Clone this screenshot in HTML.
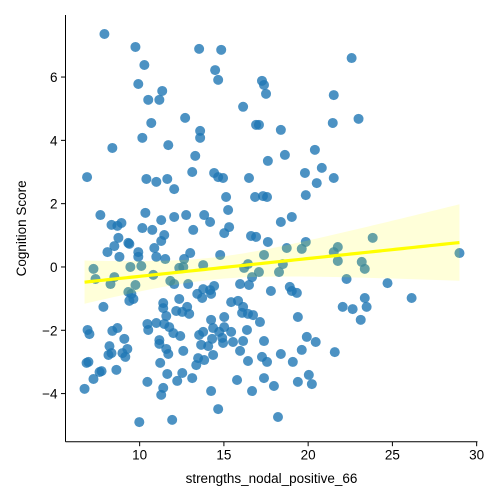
<!DOCTYPE html>
<html><head><meta charset="utf-8"><style>
html,body{margin:0;padding:0;background:#fff;}
svg{display:block;font-family:"Liberation Sans","DejaVu Sans",sans-serif;}
</style></head><body>
<svg id="chart" width="500" height="500" viewBox="0 0 500 500">
<rect width="500" height="500" fill="#fff"/>
<g id="points"></g>
<g id="reg"></g>
<g id="axes"></g>
</svg>
<script>
const xValues=[7.91,9.75,13.53,10.28,9.92,11.34,10.51,11.17,12.70,10.69,13.59,13.59,10.16,8.38,11.70,13.30,13.12,6.88,10.40,10.99,11.64,12.05,7.67,10.34,11.28,12.05,12.76,8.33,8.92,8.68,10.16,10.75,13.18,
11.46,11.28,8.74,8.50,9.33,9.39,8.09,10.87,9.92,9.92,8.80,10.99,11.52,12.64,13.00,7.26,9.45,10.10,12.35,12.59,13.77,7.38,8.50,8.27,10.81,11.82,12.05,12.88,9.75,9.33,9.51,9.39,9.63,7.85,13.42,13.77,13.71,12.35,11.40,11.40,12.17,12.53,12.82,12.94,11.58,6.91,7.02,8.38,8.68,10.46,10.51,10.99,11.46,11.76,12.0,12.41,13.53,13.77,11.17,11.17,9.09,8.21,9.27,11.58,11.70,12.59,8.15,8.33,8.98,9.15,13.65,13.47,13.83,13.36,6.85,6.96,7.62,7.74,8.62,11.22,11.64,12.53,12.23,13.12,7.26,6.73,10.46,11.40,11.28,9.98,11.93,
14.84,14.48,14.66,17.26,17.38,17.50,21.52,16.14,16.91,17.08,18.38,21.46,18.62,17.61,20.40,19.81,20.81,20.51,21.52,14.42,14.66,14.95,16.49,15.13,16.85,17.32,17.56,19.86,15.25,13.83,14.18,15.31,18.38,19.03,
15.02,16.61,16.91,17.61,19.86,18.73,19.62,14.78,17.38,16.43,16.20,17.08,18.50,18.27,16.67,15.96,16.49,17.79,18.91,19.03,19.33,14.42,14.18,14.24,15.43,15.84,16.14,16.08,16.43,16.73,17.14,15.02,19.39,14.24,14.36,15.02,14.72,15.43,14.90,14.30,14.95,15.54,16.14,16.37,17.38,19.92,20.45,14.07,15.96,19.62,18.38,14.36,16.43,17.26,17.56,19.09,21.58,20.04,20.22,19.39,15.78,17.38,17.97,16.67,14.24,14.66,18.21,
22.58,22.99,23.83,21.76,21.52,21.76,23.18,23.36,28.98,22.28,24.71,23.36,23.47,22.05,22.64,23.12,26.14];
const yValues=[7.36,6.95,6.89,6.38,5.78,5.56,5.28,5.28,4.71,4.55,4.30,4.08,4.08,3.76,3.85,3.51,3.00,2.84,2.78,2.69,2.78,2.46,1.64,1.71,1.48,1.58,1.64,1.33,1.39,1.30,1.23,1.17,1.17,
1.01,0.82,0.92,0.66,0.76,0.73,0.47,0.60,0.47,0.32,0.32,0.32,0.25,0.25,0.44,-0.06,0.00,0.03,-0.03,0.00,0.06,-0.38,-0.32,-0.54,-0.25,-0.44,-0.54,-0.54,-0.57,-0.79,-0.85,-1.07,-1.01,-1.26,-0.85,-0.70,-0.98,-1.01,-1.14,-1.30,-1.39,-1.42,-1.26,-1.48,-1.55,-1.99,-2.12,-2.02,-1.93,-1.80,-1.99,-1.77,-1.80,-1.90,-2.09,-2.18,-2.15,-2.05,-2.31,-2.43,-2.27,-2.50,-2.59,-2.59,-2.75,-2.65,-2.78,-2.72,-2.72,-2.84,-2.46,-2.88,-2.94,-3.10,-3.03,-3.00,-3.32,-3.29,-3.25,-3.03,-3.38,-3.35,-3.60,-3.51,-3.54,-3.85,-3.63,-3.82,-4.04,-4.90,-4.83,
6.86,6.22,5.91,5.88,5.75,5.47,5.43,5.06,4.49,4.49,4.33,4.55,3.54,3.35,3.70,2.97,3.13,2.65,2.81,2.97,2.84,2.81,2.81,2.21,2.21,2.24,2.21,2.27,1.80,1.64,1.42,1.26,1.42,1.58,
1.07,0.98,0.95,0.79,0.79,0.60,0.57,0.38,0.38,0.09,-0.03,-0.16,0.09,-0.16,-0.32,-0.54,-0.57,-0.76,-0.63,-0.76,-0.82,-0.60,-0.73,-0.85,-1.11,-1.07,-1.26,-1.45,-1.48,-1.52,-1.74,-1.58,-1.58,-1.67,-1.93,-1.90,-2.05,-2.05,-2.24,-2.27,-2.40,-2.37,-2.34,-1.99,-2.34,-2.21,-2.37,-2.50,-2.65,-2.62,-2.75,-2.78,-2.97,-2.84,-3.00,-3.00,-2.69,-3.41,-3.70,-3.63,-3.57,-3.51,-3.76,-3.92,-3.92,-4.49,-4.74,
6.60,4.68,0.92,0.63,0.47,0.19,0.16,-0.06,0.44,-0.38,-0.51,-0.98,-1.26,-1.26,-1.33,-1.67,-0.98];
const xTicks=[10,15,20,25,30];
const yTicks=[-4,-2,0,2,4,6];
const xLabel="strengths_nodal_positive_66";
const yLabel="Cognition Score";

const L=65.5,R=477.5,T=15,B=441.7;
const X0=5.6,X1=30.05,Y0=-5.52,Y1=7.96;
function sx(v){return L+(v-X0)/(X1-X0)*(R-L);}
function sy(v){return B-(v-Y0)/(Y1-Y0)*(B-T);}
const NS="http://www.w3.org/2000/svg";
function mk(tag,attrs,parent){const e=document.createElementNS(NS,tag);for(const k in attrs)e.setAttribute(k,attrs[k]);parent.appendChild(e);return e;}

const gp=document.getElementById('points');
for(let i=0;i<xValues.length;i++){
  const c=mk('circle',{cx:sx(xValues[i]),cy:sy(yValues[i]),r:5,fill:'#1f77b4','fill-opacity':0.8,stroke:'none'},gp);
  
  
}

// regression + analytic 95% CI
const n=xValues.length;
let mx=0,my=0;for(let i=0;i<n;i++){mx+=xValues[i];my+=yValues[i];}mx/=n;my/=n;
let sxx=0,sxy=0;for(let i=0;i<n;i++){sxx+=(xValues[i]-mx)**2;sxy+=(xValues[i]-mx)*(yValues[i]-my);}
const b=sxy/sxx,a=my-b*mx;
let sse=0;for(let i=0;i<n;i++){sse+=(yValues[i]-a-b*xValues[i])**2;}
const s=Math.sqrt(sse/(n-2));
const xmin=Math.min(...xValues),xmax=Math.max(...xValues);
const up=[],lo=[],ln=[];
for(let k=0;k<=100;k++){
  const x=xmin+(xmax-xmin)*k/100;const yh=a+b*x;
  const se=s*Math.sqrt(1/n+(x-mx)**2/sxx)*1.97;
  up.push(sx(x)+','+sy(yh+se));lo.unshift(sx(x)+','+sy(yh-se));ln.push(sx(x)+','+sy(yh));
}
const gr=document.getElementById('reg');
const band=mk('polygon',{points:up.concat(lo).join(' '),fill:'#ffff00','fill-opacity':0.15,stroke:'none'},gr);


const rl=mk('polyline',{points:ln.join(' '),fill:'none',stroke:'#ffff00','stroke-width':3.2},gr);



// axes
const ga=document.getElementById('axes');
const ys=mk('line',{x1:L,y1:T,x2:L,y2:B,stroke:'#000','stroke-width':1},ga);


const xs=mk('line',{x1:L,y1:B,x2:R,y2:B,stroke:'#000','stroke-width':1},ga);


xTicks.forEach(t=>{
  const tk=mk('line',{x1:sx(t),y1:B,x2:sx(t),y2:B+4.5,stroke:'#000','stroke-width':1},ga);
  
  
  const tx=mk('text',{x:sx(t),y:B+18,'text-anchor':'middle','font-size':13.5,fill:'#000'},ga);
  tx.textContent=t;
  
  
});
yTicks.forEach(t=>{
  const tk=mk('line',{x1:L-4.5,y1:sy(t),x2:L,y2:sy(t),stroke:'#000','stroke-width':1},ga);
  
  
  const tx=mk('text',{x:L-8,y:sy(t)+5,'text-anchor':'end','font-size':13.5,fill:'#000'},ga);
  tx.textContent=t<0?'\u2212'+Math.abs(t):String(t);
  
  
});
const xl=mk('text',{x:(L+R)/2,y:483,'text-anchor':'middle','font-size':13.5,fill:'#000'},ga);
xl.textContent=xLabel;


const yl=mk('text',{x:0,y:0,'text-anchor':'middle','font-size':13.5,fill:'#000',transform:'translate(26,'+((T+B)/2)+') rotate(-90)'},ga);
yl.textContent=yLabel;


</script>
</body></html>
